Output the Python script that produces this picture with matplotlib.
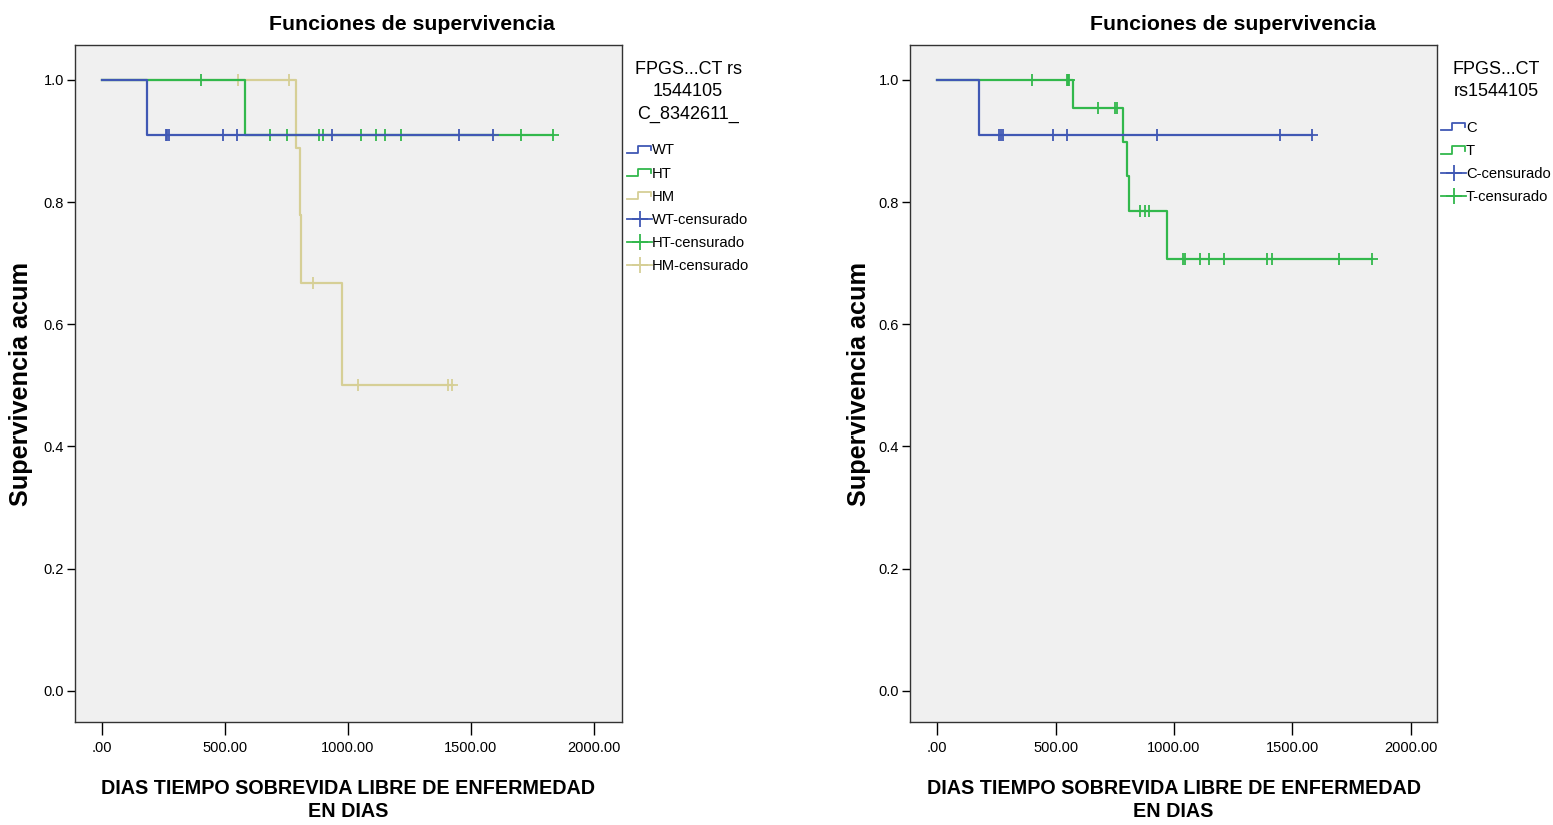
import numpy as np
import matplotlib
matplotlib.use('Agg')
import matplotlib.pyplot as plt
from matplotlib.lines import Line2D
from matplotlib.legend_handler import HandlerBase

plt.rcParams['font.family'] = ['Liberation Sans', 'DejaVu Sans']

# ---- data (days, cumulative survival) ----
# left panel: FPGS...CT rs 1544105 C_8342611_
wt_events = [183]
wt_surv = [0.909]
wt_cens = [258, 265, 272, 490, 550, 934, 1452, 1588]

ht_events = [581]
ht_surv = [0.909]
ht_cens = [402, 683, 753, 884, 898, 1052, 1114, 1152, 1215, 1702, 1835]

hm_events = [787, 805, 810, 977]
hm_surv = [0.889, 0.778, 0.667, 0.5]
hm_cens = [551, 761, 859, 1042, 1405, 1422]

# right panel: FPGS...CT rs1544105
c_events = [177]
c_surv = [0.909]
c_cens = [262, 270, 278, 488, 547, 930, 1447, 1584]

t_events = [575, 784, 803, 809, 972]
t_surv = [0.954, 0.899, 0.842, 0.786, 0.707]
t_cens = [402, 547, 551, 555, 681, 751, 758, 857, 878, 896, 1040, 1046,
          1110, 1148, 1211, 1394, 1412, 1696, 1835]

xticks = [0, 500, 1000, 1500, 2000]
xticklabels = ['.00', '500.00', '1000.00', '1500.00', '2000.00']
yticks = [0.0, 0.2, 0.4, 0.6, 0.8, 1.0]
yticklabels = ['0.0', '0.2', '0.4', '0.6', '0.8', '1.0']

BLUE = '#4058b4'
GREEN = '#32b84c'
KHAKI = '#d6cf96'


class StepHandler(HandlerBase):
    def create_artists(self, legend, orig_handle, xdescent, ydescent,
                       width, height, fontsize, trans):
        w, h = width, height
        xs = [-xdescent, -xdescent + w * 0.45, -xdescent + w * 0.45,
              -xdescent + w * 0.95, -xdescent + w * 0.95]
        ys = [h * 0.15, h * 0.15, h * 0.85, h * 0.85, h * 0.45]
        ln = Line2D(xs, ys, color=orig_handle.get_color(), lw=1.3, transform=trans)
        return [ln]


def km_curve(ax, events, surv, cens, color):
    end = max(cens + events)
    t = np.array([0] + events + [end])
    s = np.array([1.0] + surv + [surv[-1]])
    ax.step(t, s, where='post', color=color, lw=1.6)
    c = np.array(cens)
    idx = np.searchsorted(t, c, side='right') - 1
    ax.plot(c, s[idx], ls='none', marker='+', ms=9, mew=1.3, color=color)


def setup(ax, xlim, ylab_x):
    ax.set_facecolor('#f0f0f0')
    ax.set_xlim(*xlim)
    ax.set_ylim(-0.051, 1.057)
    ax.set_xticks(xticks)
    ax.set_xticklabels(xticklabels, fontsize=10.5)
    ax.set_yticks(yticks)
    ax.set_yticklabels(yticklabels, fontsize=10.5)
    ax.tick_params(axis='x', length=9, width=1, pad=5)
    ax.tick_params(axis='y', length=6, width=1, pad=2)
    for sp in ax.spines.values():
        sp.set_color('#333333')
        sp.set_linewidth(1.0)
    ax.set_xlabel('DIAS TIEMPO SOBREVIDA LIBRE DE ENFERMEDAD\nEN DIAS',
                  fontsize=14.2, fontweight='bold', linespacing=1.3, va='top')
    ax.xaxis.set_label_coords(0.5, -0.084)
    ax.set_ylabel('Supervivencia acum', fontsize=18.2, fontweight='bold', va='center')
    ax.yaxis.set_label_coords(ylab_x, 0.5)


fig = plt.figure(figsize=(15.53, 8.25), dpi=100)
ax1 = fig.add_axes([0.0483, 0.1248, 0.3522, 0.8207])
ax2 = fig.add_axes([0.586, 0.1248, 0.3393, 0.8207])

setup(ax1, (-110, 2114), -0.098)
setup(ax2, (-114, 2110), -0.096)

km_curve(ax1, hm_events, hm_surv, hm_cens, KHAKI)
km_curve(ax1, ht_events, ht_surv, ht_cens, GREEN)
km_curve(ax1, wt_events, wt_surv, wt_cens, BLUE)

km_curve(ax2, t_events, t_surv, t_cens, GREEN)
km_curve(ax2, c_events, c_surv, c_cens, BLUE)

fig.text(412 / 1553, 1 - 25 / 825, 'Funciones de supervivencia', ha='center', va='center',
         fontsize=15.3, fontweight='bold')
fig.text(1233 / 1553, 1 - 25 / 825, 'Funciones de supervivencia', ha='center', va='center',
         fontsize=15.3, fontweight='bold')


def cens_handle(color):
    return Line2D([], [], color=color, lw=1.3, marker='+', ms=11, mew=1.3)


def make_legend(handles, labels, nsteps, x_px, title):
    hmap = {h: StepHandler() for h in handles[:nsteps]}
    leg = fig.legend(handles, labels, handler_map=hmap, loc='upper left',
                     bbox_to_anchor=(x_px / 1553, 1 - 61 / 825), frameon=False,
                     title=title, title_fontsize=13, alignment='center',
                     fontsize=10.6, handlelength=1.7, handletextpad=0.0,
                     labelspacing=0.62, borderaxespad=0, borderpad=0)
    leg._legend_box.sep = 15
    leg.get_title().set_linespacing(1.4)
    leg.get_title().set_multialignment('center')
    return leg


lh1 = [Line2D([], [], color=BLUE), Line2D([], [], color=GREEN), Line2D([], [], color=KHAKI),
       cens_handle(BLUE), cens_handle(GREEN), cens_handle(KHAKI)]
ll1 = ['WT', 'HT', 'HM', 'WT-censurado', 'HT-censurado', 'HM-censurado']
make_legend(lh1, ll1, 3, 627, 'FPGS...CT rs\n1544105\nC_8342611_')

lh2 = [Line2D([], [], color=BLUE), Line2D([], [], color=GREEN),
       cens_handle(BLUE), cens_handle(GREEN)]
ll2 = ['C', 'T', 'C-censurado', 'T-censurado']
make_legend(lh2, ll2, 2, 1441, 'FPGS...CT\nrs1544105')

fig.savefig('out.png', dpi=100, facecolor='white')
